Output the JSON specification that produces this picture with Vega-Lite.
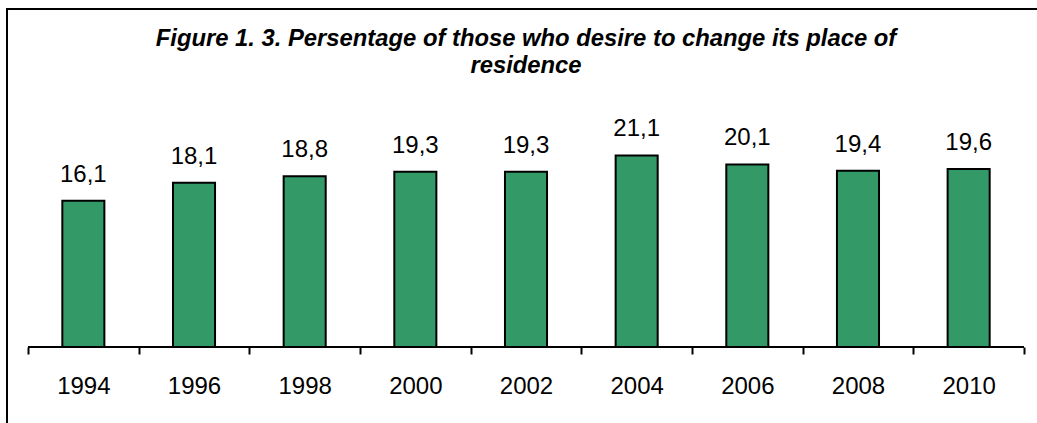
{
  "$schema": "https://vega.github.io/schema/vega-lite/v6.json",
  "autosize": {"type": "none"},
  "padding": {"left": 7, "top": 9, "right": 0, "bottom": 0},
  "width": 1038,
  "height": 431,
  "background": "white",
  "config": {
    "locale": {"number": {"decimal": ",", "thousands": " ", "grouping": [3], "currency": ["", ""]}},
    "view": {"stroke": "#000", "strokeWidth": 2},
    "font": "Liberation Sans"
  },
  "title": {
    "text": ["Figure 1. 3. Persentage of those who desire to change its place of", "residence"],
    "font": "Liberation Sans",
    "fontSize": 23.8,
    "fontWeight": "bold",
    "fontStyle": "italic",
    "color": "#000",
    "anchor": "middle",
    "baseline": "alphabetic",
    "lineHeight": 27,
    "offset": -88,
    "frame": "group"
  },
  "data": {
    "values": [
      {"year": "1994", "pct": 16.1},
      {"year": "1996", "pct": 18.1},
      {"year": "1998", "pct": 18.8},
      {"year": "2000", "pct": 19.3},
      {"year": "2002", "pct": 19.3},
      {"year": "2004", "pct": 21.1},
      {"year": "2006", "pct": 20.1},
      {"year": "2008", "pct": 19.4},
      {"year": "2010", "pct": 19.6}
    ]
  },
  "encoding": {
    "x": {
      "field": "year",
      "type": "ordinal",
      "scale": {"paddingInner": 0, "paddingOuter": 0.19},
      "axis": {
        "title": null,
        "domain": false,
        "grid": false,
        "tickBand": "extent",
        "tickSize": 7,
        "tickWidth": 2,
        "tickColor": "#000",
        "labelFont": "Liberation Sans",
        "labelFontSize": 24,
        "labelColor": "#000",
        "labelPadding": 20,
        "labelAngle": 0,
        "offset": -93
      }
    },
    "y": {
      "field": "pct",
      "type": "quantitative",
      "scale": {"domain": [-10.24, 37.22], "nice": false},
      "axis": null
    }
  },
  "layer": [
    {
      "mark": {"type": "bar", "fill": "#339966", "stroke": "#000", "strokeWidth": 2, "width": {"band": 0.38}}
    },
    {
      "mark": {"type": "text", "dy": -19, "baseline": "alphabetic", "fontSize": 24, "color": "#000", "font": "Liberation Sans"},
      "encoding": {"text": {"field": "pct", "type": "quantitative", "format": ".1f"}}
    },
    {
      "mark": {"type": "rule", "strokeWidth": 2, "color": "#000"},
      "encoding": {
        "x": {"datum": "1994", "bandPosition": 0},
        "x2": {"datum": "2010", "bandPosition": 1},
        "y": {"datum": 0}
      }
    }
  ]
}
